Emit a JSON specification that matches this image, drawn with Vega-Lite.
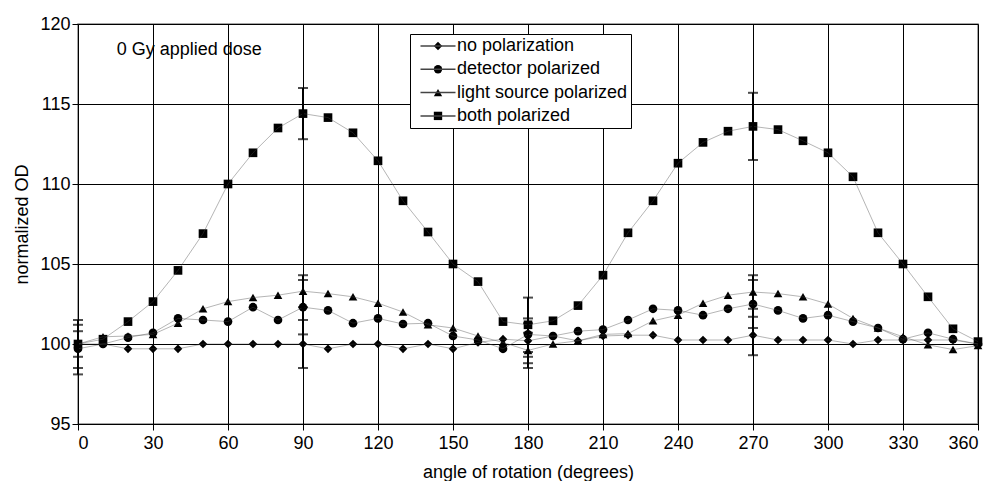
{
  "$schema": "https://vega.github.io/schema/vega-lite/v6.json",
  "width": 900,
  "height": 400,
  "autosize": {"type": "none"},
  "padding": {"left": 78, "top": 24, "right": 16, "bottom": 57},
  "background": "white",
  "config": {
    "font": "Liberation Sans",
    "view": {"stroke": "#888", "strokeWidth": 1.5},
    "axis": {
      "gridColor": "#000", "gridOpacity": 1, "gridWidth": 1,
      "domainColor": "#000", "domainWidth": 1,
      "tickColor": "#000", "tickSize": 6,
      "labelColor": "#000", "labelFontSize": 18, "labelFont": "Liberation Sans",
      "titleColor": "#000", "titleFontSize": 18, "titleFontWeight": "normal", "titleFont": "Liberation Sans"
    }
  },
  "datasets": {
    "pts": [
      {"angle": 0, "series": "no polarization", "od": 100.0},
      {"angle": 10, "series": "no polarization", "od": 100.0},
      {"angle": 20, "series": "no polarization", "od": 99.7},
      {"angle": 30, "series": "no polarization", "od": 99.7},
      {"angle": 40, "series": "no polarization", "od": 99.7},
      {"angle": 50, "series": "no polarization", "od": 100.0},
      {"angle": 60, "series": "no polarization", "od": 100.0},
      {"angle": 70, "series": "no polarization", "od": 100.0},
      {"angle": 80, "series": "no polarization", "od": 100.0},
      {"angle": 90, "series": "no polarization", "od": 100.0},
      {"angle": 100, "series": "no polarization", "od": 99.7},
      {"angle": 110, "series": "no polarization", "od": 100.0},
      {"angle": 120, "series": "no polarization", "od": 100.0},
      {"angle": 130, "series": "no polarization", "od": 99.7},
      {"angle": 140, "series": "no polarization", "od": 100.0},
      {"angle": 150, "series": "no polarization", "od": 99.7},
      {"angle": 160, "series": "no polarization", "od": 100.1},
      {"angle": 170, "series": "no polarization", "od": 100.3},
      {"angle": 180, "series": "no polarization", "od": 100.2},
      {"angle": 190, "series": "no polarization", "od": 100.5},
      {"angle": 200, "series": "no polarization", "od": 100.2},
      {"angle": 210, "series": "no polarization", "od": 100.5},
      {"angle": 220, "series": "no polarization", "od": 100.55},
      {"angle": 230, "series": "no polarization", "od": 100.55},
      {"angle": 240, "series": "no polarization", "od": 100.25},
      {"angle": 250, "series": "no polarization", "od": 100.25},
      {"angle": 260, "series": "no polarization", "od": 100.25},
      {"angle": 270, "series": "no polarization", "od": 100.55},
      {"angle": 280, "series": "no polarization", "od": 100.25},
      {"angle": 290, "series": "no polarization", "od": 100.25},
      {"angle": 300, "series": "no polarization", "od": 100.25},
      {"angle": 310, "series": "no polarization", "od": 100.0},
      {"angle": 320, "series": "no polarization", "od": 100.25},
      {"angle": 330, "series": "no polarization", "od": 100.25},
      {"angle": 340, "series": "no polarization", "od": 100.25},
      {"angle": 350, "series": "no polarization", "od": 100.25},
      {"angle": 360, "series": "no polarization", "od": 100.0},

      {"angle": 0, "series": "detector polarized", "od": 99.7},
      {"angle": 10, "series": "detector polarized", "od": 100.0},
      {"angle": 20, "series": "detector polarized", "od": 100.4},
      {"angle": 30, "series": "detector polarized", "od": 100.7},
      {"angle": 40, "series": "detector polarized", "od": 101.6},
      {"angle": 50, "series": "detector polarized", "od": 101.5},
      {"angle": 60, "series": "detector polarized", "od": 101.4},
      {"angle": 70, "series": "detector polarized", "od": 102.3},
      {"angle": 80, "series": "detector polarized", "od": 101.5},
      {"angle": 90, "series": "detector polarized", "od": 102.3},
      {"angle": 100, "series": "detector polarized", "od": 102.1},
      {"angle": 110, "series": "detector polarized", "od": 101.3},
      {"angle": 120, "series": "detector polarized", "od": 101.6},
      {"angle": 130, "series": "detector polarized", "od": 101.25},
      {"angle": 140, "series": "detector polarized", "od": 101.3},
      {"angle": 150, "series": "detector polarized", "od": 100.5},
      {"angle": 160, "series": "detector polarized", "od": 100.25},
      {"angle": 170, "series": "detector polarized", "od": 99.7},
      {"angle": 180, "series": "detector polarized", "od": 100.6},
      {"angle": 190, "series": "detector polarized", "od": 100.5},
      {"angle": 200, "series": "detector polarized", "od": 100.8},
      {"angle": 210, "series": "detector polarized", "od": 100.9},
      {"angle": 220, "series": "detector polarized", "od": 101.5},
      {"angle": 230, "series": "detector polarized", "od": 102.2},
      {"angle": 240, "series": "detector polarized", "od": 102.1},
      {"angle": 250, "series": "detector polarized", "od": 101.8},
      {"angle": 260, "series": "detector polarized", "od": 102.2},
      {"angle": 270, "series": "detector polarized", "od": 102.5},
      {"angle": 280, "series": "detector polarized", "od": 102.1},
      {"angle": 290, "series": "detector polarized", "od": 101.6},
      {"angle": 300, "series": "detector polarized", "od": 101.8},
      {"angle": 310, "series": "detector polarized", "od": 101.4},
      {"angle": 320, "series": "detector polarized", "od": 101.0},
      {"angle": 330, "series": "detector polarized", "od": 100.3},
      {"angle": 340, "series": "detector polarized", "od": 100.7},
      {"angle": 350, "series": "detector polarized", "od": 100.3},
      {"angle": 360, "series": "detector polarized", "od": 100.0},

      {"angle": 0, "series": "light source polarized", "od": 100.0},
      {"angle": 10, "series": "light source polarized", "od": 100.45},
      {"angle": 20, "series": "light source polarized", "od": 100.5},
      {"angle": 30, "series": "light source polarized", "od": 100.6},
      {"angle": 40, "series": "light source polarized", "od": 101.3},
      {"angle": 50, "series": "light source polarized", "od": 102.2},
      {"angle": 60, "series": "light source polarized", "od": 102.65},
      {"angle": 70, "series": "light source polarized", "od": 102.9},
      {"angle": 80, "series": "light source polarized", "od": 103.05},
      {"angle": 90, "series": "light source polarized", "od": 103.3},
      {"angle": 100, "series": "light source polarized", "od": 103.15},
      {"angle": 110, "series": "light source polarized", "od": 102.95},
      {"angle": 120, "series": "light source polarized", "od": 102.55},
      {"angle": 130, "series": "light source polarized", "od": 102.0},
      {"angle": 140, "series": "light source polarized", "od": 101.2},
      {"angle": 150, "series": "light source polarized", "od": 101.0},
      {"angle": 160, "series": "light source polarized", "od": 100.5},
      {"angle": 170, "series": "light source polarized", "od": 100.1},
      {"angle": 180, "series": "light source polarized", "od": 99.6},
      {"angle": 190, "series": "light source polarized", "od": 100.0},
      {"angle": 200, "series": "light source polarized", "od": 100.2},
      {"angle": 210, "series": "light source polarized", "od": 100.6},
      {"angle": 220, "series": "light source polarized", "od": 100.65},
      {"angle": 230, "series": "light source polarized", "od": 101.45},
      {"angle": 240, "series": "light source polarized", "od": 101.8},
      {"angle": 250, "series": "light source polarized", "od": 102.55},
      {"angle": 260, "series": "light source polarized", "od": 103.05},
      {"angle": 270, "series": "light source polarized", "od": 103.25},
      {"angle": 280, "series": "light source polarized", "od": 103.15},
      {"angle": 290, "series": "light source polarized", "od": 102.95},
      {"angle": 300, "series": "light source polarized", "od": 102.5},
      {"angle": 310, "series": "light source polarized", "od": 101.6},
      {"angle": 320, "series": "light source polarized", "od": 101.0},
      {"angle": 330, "series": "light source polarized", "od": 100.45},
      {"angle": 340, "series": "light source polarized", "od": 99.95},
      {"angle": 350, "series": "light source polarized", "od": 99.65},
      {"angle": 360, "series": "light source polarized", "od": 99.9},

      {"angle": 0, "series": "both polarized", "od": 100.0},
      {"angle": 10, "series": "both polarized", "od": 100.3},
      {"angle": 20, "series": "both polarized", "od": 101.4},
      {"angle": 30, "series": "both polarized", "od": 102.65},
      {"angle": 40, "series": "both polarized", "od": 104.6},
      {"angle": 50, "series": "both polarized", "od": 106.9},
      {"angle": 60, "series": "both polarized", "od": 110.0},
      {"angle": 70, "series": "both polarized", "od": 111.95},
      {"angle": 80, "series": "both polarized", "od": 113.5},
      {"angle": 90, "series": "both polarized", "od": 114.4},
      {"angle": 100, "series": "both polarized", "od": 114.15},
      {"angle": 110, "series": "both polarized", "od": 113.2},
      {"angle": 120, "series": "both polarized", "od": 111.45},
      {"angle": 130, "series": "both polarized", "od": 108.95},
      {"angle": 140, "series": "both polarized", "od": 107.0},
      {"angle": 150, "series": "both polarized", "od": 105.0},
      {"angle": 160, "series": "both polarized", "od": 103.9},
      {"angle": 170, "series": "both polarized", "od": 101.4},
      {"angle": 180, "series": "both polarized", "od": 101.2},
      {"angle": 190, "series": "both polarized", "od": 101.45},
      {"angle": 200, "series": "both polarized", "od": 102.4},
      {"angle": 210, "series": "both polarized", "od": 104.3},
      {"angle": 220, "series": "both polarized", "od": 106.95},
      {"angle": 230, "series": "both polarized", "od": 108.95},
      {"angle": 240, "series": "both polarized", "od": 111.3},
      {"angle": 250, "series": "both polarized", "od": 112.6},
      {"angle": 260, "series": "both polarized", "od": 113.3},
      {"angle": 270, "series": "both polarized", "od": 113.6},
      {"angle": 280, "series": "both polarized", "od": 113.4},
      {"angle": 290, "series": "both polarized", "od": 112.7},
      {"angle": 300, "series": "both polarized", "od": 111.95},
      {"angle": 310, "series": "both polarized", "od": 110.45},
      {"angle": 320, "series": "both polarized", "od": 106.95},
      {"angle": 330, "series": "both polarized", "od": 105.0},
      {"angle": 340, "series": "both polarized", "od": 102.95},
      {"angle": 350, "series": "both polarized", "od": 100.95},
      {"angle": 360, "series": "both polarized", "od": 100.15}
    ],
    "errs": [
      {"angle": 0, "series": "both polarized", "lo": 98.5, "hi": 101.5},
      {"angle": 0, "series": "detector polarized", "lo": 98.1, "hi": 101.2},
      {"angle": 0, "series": "light source polarized", "lo": 99.2, "hi": 100.8},
      {"angle": 90, "series": "both polarized", "lo": 112.8, "hi": 116.0},
      {"angle": 90, "series": "light source polarized", "lo": 102.3, "hi": 104.3},
      {"angle": 90, "series": "detector polarized", "lo": 100.6, "hi": 104.0},
      {"angle": 90, "series": "no polarization", "lo": 98.5, "hi": 101.5},
      {"angle": 180, "series": "both polarized", "lo": 99.5, "hi": 102.9},
      {"angle": 180, "series": "no polarization", "lo": 98.8, "hi": 101.6},
      {"angle": 180, "series": "detector polarized", "lo": 99.2, "hi": 101.3},
      {"angle": 180, "series": "light source polarized", "lo": 98.5, "hi": 100.7},
      {"angle": 270, "series": "both polarized", "lo": 111.5, "hi": 115.7},
      {"angle": 270, "series": "light source polarized", "lo": 102.2, "hi": 104.3},
      {"angle": 270, "series": "detector polarized", "lo": 101.0, "hi": 104.0},
      {"angle": 270, "series": "no polarization", "lo": 99.3, "hi": 101.7}
    ],
    "notes": [
      {"angle": 15.5, "od": 118.4, "label": "0 Gy applied dose"}
    ]
  },
  "layer": [
    {
      "data": {"name": "pts"},
      "mark": {"type": "point", "filled": true, "color": "#000", "opacity": 1, "size": 75},
      "encoding": {
        "x": {
          "field": "angle", "type": "quantitative",
          "scale": {"domain": [0, 360], "nice": false},
          "axis": {"values": [0, 30, 60, 90, 120, 150, 180, 210, 240, 270, 300, 330, 360], "grid": true, "labelPadding": 4, "titlePadding": 11, "title": "angle of rotation (degrees)"}
        },
        "y": {"field": "od", "type": "quantitative", "scale": {"domain": [95, 120], "nice": false, "zero": false},
          "axis": {"values": [95, 100, 105, 110, 115, 120], "grid": true, "labelPadding": 2, "titlePadding": 8, "title": "normalized OD"}},
        "shape": {
          "field": "series", "type": "nominal",
          "scale": {"domain": ["no polarization", "detector polarized", "light source polarized", "both polarized"], "range": ["diamond", "circle", "triangle-up", "square"]},
          "legend": {"orient": "none", "legendX": 332, "legendY": 10, "title": null, "fillColor": "white", "strokeColor": "#000", "padding": 3, "rowPadding": 5.3, "symbolOffset": 16, "labelOffset": 10, "labelLimit": 400, "labelFontSize": 18, "labelColor": "#000", "labelFont": "Liberation Sans", "symbolFillColor": "#000", "symbolStrokeColor": "#000", "symbolSize": 70}
        }
      }
    },
    {
      "data": {"name": "pts"},
      "mark": {"type": "line", "strokeWidth": 0.4},
      "encoding": {
        "x": {"field": "angle", "type": "quantitative"},
        "y": {"field": "od", "type": "quantitative"},
        "color": {
          "field": "series", "type": "nominal",
          "scale": {"range": ["#444", "#444", "#444", "#444"]},
          "legend": {"orient": "none", "legendX": 332, "legendY": 10, "title": null, "padding": 3, "rowPadding": 5.3, "symbolOffset": 16, "symbolType": "M-5,0H5", "symbolSize": 49, "symbolStrokeColor": "#555", "labelFontSize": 18, "labelLimit": 1, "labelColor": "transparent"}
        }
      }
    },
    {
      "data": {"name": "errs"},
      "mark": {"type": "rule", "strokeWidth": 2, "color": "#000"},
      "encoding": {
        "x": {"field": "angle", "type": "quantitative"},
        "y": {"field": "lo", "type": "quantitative"},
        "y2": {"field": "hi"}
      }
    },
    {
      "data": {"name": "errs"},
      "mark": {"type": "tick", "orient": "horizontal", "size": 10, "thickness": 2, "color": "#000"},
      "encoding": {
        "x": {"field": "angle", "type": "quantitative"},
        "y": {"field": "lo", "type": "quantitative"}
      }
    },
    {
      "data": {"name": "errs"},
      "mark": {"type": "tick", "orient": "horizontal", "size": 10, "thickness": 2, "color": "#000"},
      "encoding": {
        "x": {"field": "angle", "type": "quantitative"},
        "y": {"field": "hi", "type": "quantitative"}
      }
    },
    {
      "data": {"name": "notes"},
      "mark": {"type": "text", "align": "left", "baseline": "middle", "fontSize": 18, "font": "Liberation Sans", "color": "#000"},
      "encoding": {
        "x": {"field": "angle", "type": "quantitative"},
        "y": {"field": "od", "type": "quantitative"},
        "text": {"field": "label"}
      }
    }
  ]
}
